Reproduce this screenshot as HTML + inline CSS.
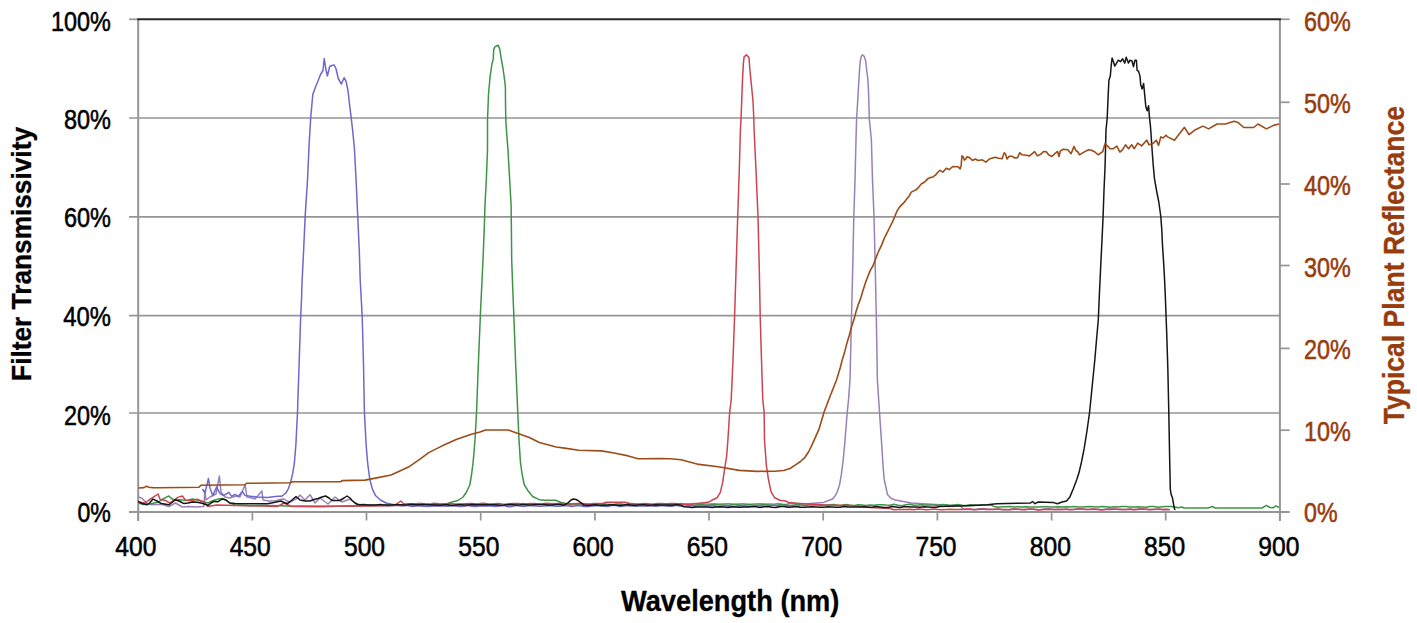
<!DOCTYPE html>
<html><head><meta charset="utf-8"><style>
html,body{margin:0;padding:0;background:#fff;overflow:hidden;}
svg{display:block;font-family:"Liberation Sans",sans-serif;}
</style></head><body>
<svg width="1417" height="623" viewBox="0 0 1417 623">
<rect width="1417" height="623" fill="#fff"/>
<line x1="129" y1="118.0" x2="1279.9" y2="118.0" stroke="#959595" stroke-width="1.7"/>
<line x1="129" y1="216.9" x2="1279.9" y2="216.9" stroke="#959595" stroke-width="1.7"/>
<line x1="129" y1="315.7" x2="1279.9" y2="315.7" stroke="#959595" stroke-width="1.7"/>
<line x1="129" y1="413.0" x2="1279.9" y2="413.0" stroke="#959595" stroke-width="1.7"/>
<line x1="129" y1="19.3" x2="138.2" y2="19.3" stroke="#959595" stroke-width="1.7"/>
<line x1="129" y1="512.0" x2="1289.4" y2="512.0" stroke="#959595" stroke-width="2"/>
<line x1="1279.9" y1="512.0" x2="1289.7" y2="512.0" stroke="#959595" stroke-width="1.7"/>
<line x1="1279.9" y1="430.2" x2="1289.7" y2="430.2" stroke="#959595" stroke-width="1.7"/>
<line x1="1279.9" y1="348.4" x2="1289.7" y2="348.4" stroke="#959595" stroke-width="1.7"/>
<line x1="1279.9" y1="265.5" x2="1289.7" y2="265.5" stroke="#959595" stroke-width="1.7"/>
<line x1="1279.9" y1="184.0" x2="1289.7" y2="184.0" stroke="#959595" stroke-width="1.7"/>
<line x1="1279.9" y1="102.3" x2="1289.7" y2="102.3" stroke="#959595" stroke-width="1.7"/>
<line x1="1279.9" y1="19.3" x2="1289.7" y2="19.3" stroke="#959595" stroke-width="1.7"/>
<line x1="138.2" y1="512.0" x2="138.2" y2="520.5" stroke="#959595" stroke-width="1.7"/>
<line x1="252.4" y1="512.0" x2="252.4" y2="520.5" stroke="#959595" stroke-width="1.7"/>
<line x1="366.5" y1="512.0" x2="366.5" y2="520.5" stroke="#959595" stroke-width="1.7"/>
<line x1="480.7" y1="512.0" x2="480.7" y2="520.5" stroke="#959595" stroke-width="1.7"/>
<line x1="594.9" y1="512.0" x2="594.9" y2="520.5" stroke="#959595" stroke-width="1.7"/>
<line x1="709.0" y1="512.0" x2="709.0" y2="520.5" stroke="#959595" stroke-width="1.7"/>
<line x1="823.2" y1="512.0" x2="823.2" y2="520.5" stroke="#959595" stroke-width="1.7"/>
<line x1="937.4" y1="512.0" x2="937.4" y2="520.5" stroke="#959595" stroke-width="1.7"/>
<line x1="1051.6" y1="512.0" x2="1051.6" y2="520.5" stroke="#959595" stroke-width="1.7"/>
<line x1="1165.7" y1="512.0" x2="1165.7" y2="520.5" stroke="#959595" stroke-width="1.7"/>
<line x1="1279.9" y1="512.0" x2="1279.9" y2="520.5" stroke="#959595" stroke-width="1.7"/>
<line x1="138.2" y1="19.3" x2="138.2" y2="521.0" stroke="#959595" stroke-width="2"/>
<line x1="1279.9" y1="19.3" x2="1279.9" y2="521.0" stroke="#959595" stroke-width="2"/>
<line x1="137.2" y1="19.3" x2="1280.9" y2="19.3" stroke="#272727" stroke-width="2"/>
<polyline fill="none" stroke="#9a80b8" stroke-width="1.5" stroke-linejoin="round" points="138.3,496.9 141.6,498.0 147.3,503.6 151.8,504.8 156.0,504.5 161.4,504.2 168.8,506.5 175.5,503.0 182.3,507.0 188.0,506.5 195.3,507.0 203.8,506.5 204.9,490.6 206.0,500.0 210.0,497.0 216.0,494.0 219.4,476.0 221.0,492.0 225.0,497.0 230.0,498.0 236.0,496.0 240.0,497.0 245.1,484.8 247.0,497.0 252.0,498.0 255.0,499.0 261.9,490.9 263.0,500.0 269.0,501.0 275.0,501.0 280.0,499.5 284.0,499.0 287.0,501.0 290.0,502.0 294.0,500.0 297.7,498.0 300.0,495.0 305.0,500.0 310.0,494.7 315.0,503.0 320.0,498.0 324.0,501.0 328.0,504.0 335.0,497.0 342.0,502.0 350.0,499.0 357.0,504.0 362.0,505.0 380.0,505.5 384.0,505.3 388.0,506.0 392.0,505.4 396.0,505.3 400.0,505.7 404.0,505.7 408.0,505.1 412.0,505.4 416.0,505.4 420.0,505.8 424.0,505.7 428.0,505.3 432.0,505.4 436.0,505.8 440.0,505.6 444.0,505.2 448.0,505.7 452.0,505.6 456.0,505.3 460.0,505.4 464.0,505.7 468.0,505.7 472.0,505.6 476.0,505.3 480.0,505.3 484.0,505.7 488.0,505.3 492.0,505.2 496.0,505.8 500.0,505.8 504.0,505.5 508.0,505.3 512.0,505.5 516.0,505.8 520.0,505.5 522.0,503.5 526.0,504.3 530.0,504.0 534.0,503.4 538.0,503.9 542.0,504.0 546.0,503.9 550.0,504.1 554.0,503.6 558.0,504.1 562.0,504.2 566.0,504.0 570.0,503.7 574.0,504.2 578.0,504.5 582.0,503.7 586.0,503.7 590.0,504.3 594.0,504.1 598.0,504.1 602.0,503.8 606.0,503.9 610.0,504.4 614.0,504.2 618.0,503.4 622.0,504.0 626.0,504.5 630.0,503.5 634.0,503.7 638.0,504.6 642.0,504.2 646.0,503.8 650.0,504.2 654.0,504.2 658.0,504.3 662.0,504.1 666.0,503.8 670.0,503.9 674.0,504.6 678.0,503.9 682.0,503.6 686.0,504.5 690.0,503.9 694.0,503.6 698.0,504.0 702.0,504.1 706.0,504.0 710.0,504.1 714.0,503.7 718.0,504.0 722.0,504.1 726.0,503.8 730.0,503.8 734.0,504.4 738.0,504.1 742.0,503.8 746.0,503.9 750.0,504.3 754.0,503.9 758.0,503.7 762.0,503.8 766.0,504.1 770.0,504.0 774.0,504.2 778.0,503.4 782.0,504.3 786.0,504.4 790.0,503.6 794.0,503.6 798.0,504.4 810.0,503.5 823.5,502.4 832.5,499.0 835.0,496.0 837.0,492.3 839.5,485.0 841.4,474.3 843.2,460.0 844.8,442.9 847.1,413.7 848.5,400.0 850.0,380.0 851.5,315.8 852.8,265.0 853.8,216.8 855.0,180.0 856.0,140.0 856.6,118.7 857.7,101.0 858.8,81.7 859.8,65.7 860.9,57.7 862.2,54.8 864.1,56.1 865.7,60.9 866.9,72.1 867.8,78.5 868.6,93.0 869.3,118.7 871.4,140.0 872.5,180.0 874.0,216.8 875.2,265.0 876.3,315.8 877.4,380.0 879.6,413.7 881.9,447.4 883.0,465.0 884.1,478.8 887.5,494.5 891.0,498.2 895.3,500.1 911.1,503.1 935.8,504.6 960.0,505.8 964.0,509.5 969.0,509.2 974.0,509.4 979.0,508.8 984.0,508.7 989.0,509.3 994.0,509.3 999.0,509.2 1004.0,509.8 1009.0,509.4 1014.0,508.7 1019.0,509.3 1024.0,509.7 1029.0,509.1 1034.0,509.2 1039.0,509.7 1044.0,509.0 1049.0,508.8 1054.0,509.4 1059.0,509.2 1064.0,509.5 1069.0,509.4 1074.0,509.2 1079.0,509.1 1084.0,509.2 1089.0,509.5 1094.0,509.2 1099.0,509.7 1104.0,509.3 1109.0,508.7 1114.0,509.0 1119.0,509.4 1124.0,509.4 1129.0,509.5 1134.0,509.6 1139.0,508.8 1144.0,509.0 1149.0,509.7 1154.0,509.5 1159.0,509.1 1164.0,509.8 1169.0,509.4"/>
<polyline fill="none" stroke="#3e9446" stroke-width="1.5" stroke-linejoin="round" points="138.3,503.0 144.0,504.5 150.0,504.0 154.0,503.0 158.6,502.0 162.0,499.5 165.9,497.4 168.8,496.0 171.0,498.0 174.4,500.2 180.0,499.7 186.0,500.5 192.5,499.1 199.8,500.8 204.0,502.0 208.3,503.0 212.0,501.0 215.0,500.0 218.5,499.0 222.0,498.5 226.0,500.0 230.0,503.0 235.0,505.0 250.0,505.8 265.0,505.4 280.8,505.7 297.7,506.4 320.0,506.8 360.0,505.5 400.0,505.0 430.0,504.5 440.0,504.2 447.6,503.5 452.0,502.0 458.0,500.5 463.1,497.0 466.5,492.0 469.8,485.0 471.5,475.0 473.2,461.6 475.0,440.0 476.6,411.0 478.5,360.0 480.6,310.0 481.8,285.0 483.0,260.0 484.2,230.0 485.0,205.0 486.3,180.0 487.5,150.0 487.5,120.0 488.5,94.2 490.1,76.5 492.0,63.7 493.3,58.9 493.7,49.3 494.9,46.9 496.5,46.0 498.2,45.2 499.8,49.3 501.0,57.3 503.0,68.5 504.6,79.8 505.4,87.8 505.5,102.2 505.8,120.0 506.8,135.0 508.0,150.0 509.5,177.0 511.1,205.0 511.4,230.0 511.7,260.0 512.8,290.0 513.8,315.0 515.5,360.0 517.7,411.0 519.0,440.0 520.4,461.6 521.5,470.0 522.8,478.0 524.4,485.0 527.6,490.2 532.7,496.5 539.1,499.7 545.4,500.3 555.6,500.3 560.6,502.2 566.0,503.5 570.0,505.3 574.0,504.3 578.0,505.1 582.0,505.5 586.0,504.8 590.0,504.4 594.0,505.2 598.0,505.2 602.0,504.7 606.0,504.9 610.0,504.7 614.0,505.0 618.0,505.3 622.0,504.6 626.0,504.9 630.0,505.7 634.0,504.8 638.0,504.2 642.0,505.4 646.0,505.4 650.0,504.8 654.0,504.9 658.0,505.4 662.0,505.1 666.0,505.2 670.0,504.7 674.0,504.9 678.0,505.6 682.0,505.0 686.0,504.2 690.0,505.1 694.0,505.6 698.0,504.8 702.0,504.7 706.0,505.3 710.0,505.0 714.0,504.8 718.0,504.8 722.0,505.0 726.0,505.2 730.0,505.0 734.0,504.3 738.0,504.8 742.0,505.5 746.0,504.8 750.0,504.7 754.0,505.2 758.0,505.2 762.0,504.7 766.0,504.8 770.0,505.1 774.0,505.2 778.0,505.1 782.0,504.4 786.0,505.0 790.0,505.7 794.0,505.1 798.0,504.3 802.0,505.3 806.0,505.6 810.0,504.8 814.0,505.0 818.0,505.0 822.0,505.4 826.0,504.9 830.0,504.7 834.0,504.6 838.0,505.6 842.0,505.2 846.0,504.6 850.0,505.3 854.0,505.8 858.0,504.7 862.0,504.9 866.0,505.4 870.0,505.1 874.0,505.2 878.0,504.8 882.0,504.7 886.0,505.1 890.0,505.2 894.0,504.3 898.0,505.2 902.0,505.8 906.0,504.7 910.0,504.3 914.0,505.3 918.0,505.1 922.0,504.8 926.0,505.0 930.0,504.9 934.0,505.1 938.0,505.4 942.0,504.6 946.0,504.8 950.0,505.8 954.0,505.1 958.0,504.6 962.0,505.3 966.0,505.4 970.0,504.8 974.0,505.0 978.0,505.2 982.0,505.0 986.0,505.0 990.0,504.7 994.0,506.4 998.0,507.2 1002.0,506.8 1006.0,506.7 1010.0,506.5 1014.0,507.0 1018.0,506.7 1022.0,506.9 1026.0,506.8 1030.0,506.9 1034.0,507.0 1038.0,507.0 1042.0,506.8 1046.0,506.7 1050.0,507.1 1054.0,506.9 1058.0,506.8 1062.0,506.9 1066.0,506.8 1070.0,507.0 1074.0,506.5 1078.0,506.9 1082.0,507.1 1086.0,506.7 1090.0,506.5 1094.0,506.7 1098.0,507.1 1102.0,506.6 1106.0,506.8 1110.0,507.2 1114.0,506.8 1118.0,506.9 1122.0,506.5 1126.0,506.6 1130.0,507.0 1134.0,507.0 1138.0,506.8 1142.0,507.0 1146.0,507.3 1150.0,506.6 1154.0,506.6 1158.0,507.2 1162.0,506.8 1166.0,506.6 1170.0,506.5 1174.0,506.7 1178.0,507.8 1181.8,507.0 1184.0,508.0 1208.0,508.0 1212.5,506.5 1215.0,508.0 1262.0,508.0 1266.4,505.4 1270.0,507.5 1273.0,507.8 1276.0,505.8 1279.0,507.5"/>
<polyline fill="none" stroke="#cc4450" stroke-width="1.5" stroke-linejoin="round" points="138.3,502.0 145.0,503.0 149.0,500.0 153.0,497.4 158.0,494.0 160.3,499.7 164.8,500.2 169.9,503.0 174.0,500.0 177.8,497.4 182.3,496.0 185.7,500.2 192.5,500.8 197.0,499.1 203.8,502.0 207.7,506.5 216.7,505.0 235.0,505.5 250.5,505.7 265.0,506.0 277.4,506.4 284.2,503.0 290.9,506.4 300.0,506.0 340.0,506.3 370.0,506.0 395.0,505.5 398.0,503.0 400.7,501.0 404.0,504.0 410.0,503.8 414.0,504.0 418.0,503.6 422.0,503.6 426.0,504.2 430.0,504.3 434.0,503.3 438.0,503.7 442.0,504.3 446.0,503.8 450.0,503.6 454.0,503.9 458.0,504.0 462.0,504.0 466.0,503.8 470.0,503.6 474.0,503.8 478.0,504.1 482.0,503.3 486.0,503.5 490.0,504.3 494.0,503.9 498.0,503.5 502.0,504.0 506.0,504.2 510.0,503.8 514.0,503.4 518.0,503.6 522.0,504.1 526.0,503.9 530.0,503.5 534.0,503.7 538.0,504.2 542.0,503.9 546.0,503.3 550.0,503.6 554.0,504.1 558.0,503.5 562.0,503.5 566.0,503.8 570.0,503.9 574.0,503.7 578.0,503.5 582.0,503.3 586.0,504.2 590.0,504.3 594.0,503.5 598.0,503.4 603.0,503.5 606.0,502.2 625.0,502.2 630.0,503.5 634.0,504.0 638.0,504.3 642.0,503.8 646.0,503.4 650.0,504.3 654.0,503.9 658.0,503.4 662.0,503.6 666.0,504.0 670.0,503.6 674.0,503.6 678.0,503.7 682.0,504.0 686.0,504.2 690.0,504.2 701.6,502.9 708.0,502.3 711.8,500.3 717.0,497.8 720.2,492.6 722.7,482.4 724.7,468.2 726.6,456.7 727.9,440.0 729.7,411.8 731.2,400.0 733.0,360.0 734.6,316.3 736.2,265.0 737.7,216.7 739.3,170.0 740.4,130.0 741.0,118.7 741.7,101.0 742.5,80.1 743.3,64.1 744.1,56.9 746.5,54.8 749.0,57.7 749.8,68.9 751.4,84.9 753.0,101.0 753.8,118.7 754.1,130.0 756.0,170.0 758.0,216.7 759.2,265.0 760.2,316.3 761.5,360.0 762.8,400.0 764.1,411.8 764.5,440.0 766.4,465.7 768.3,478.5 770.9,491.3 774.7,497.8 779.9,500.3 785.6,501.0 788.8,502.6 800.0,503.5 812.0,504.3 825.0,505.0 853.0,505.5 870.0,507.5 890.0,508.5 894.0,509.8 898.0,509.6 902.0,509.5 906.0,509.4 910.0,509.3 914.0,509.7 918.0,509.0 922.0,509.3 926.0,509.7 930.0,509.5 934.0,509.1 938.0,509.5 942.0,509.8 946.0,509.6 950.0,509.2 954.0,509.5 958.0,509.6 962.0,509.6 966.0,509.1 970.0,509.1 974.0,509.8 978.0,509.6 982.0,508.9 986.0,509.4 990.0,509.6 994.0,509.6 998.0,509.0 1002.0,509.5 1006.0,509.4 1010.0,509.8 1014.0,509.2 1018.0,509.3 1022.0,509.5 1026.0,509.6 1030.0,508.9 1034.0,509.2 1038.0,510.0 1042.0,509.7 1046.0,509.3 1050.0,509.5 1054.0,509.4 1058.0,509.4 1062.0,509.4 1066.0,509.1 1070.0,509.7 1074.0,509.5 1078.0,509.0 1082.0,509.0 1086.0,509.6 1090.0,509.3 1094.0,508.9 1098.0,509.3 1102.0,509.9 1106.0,509.4 1110.0,509.4 1114.0,509.3 1118.0,509.3 1122.0,509.6 1126.0,509.4 1130.0,508.9 1134.0,509.7 1138.0,509.5 1142.0,509.1 1146.0,509.2 1150.0,509.6 1154.0,509.2 1158.0,509.3 1162.0,509.4 1166.0,509.3 1170.0,509.7"/>
<polyline fill="none" stroke="#6e68cc" stroke-width="1.5" stroke-linejoin="round" points="202.5,489.0 205.0,493.0 208.4,478.6 210.0,488.0 212.7,495.6 216.7,486.9 218.0,490.0 220.1,493.6 223.5,495.6 228.9,492.3 231.6,496.3 235.0,494.3 238.3,496.3 242.4,491.6 245.1,495.6 250.5,496.3 257.2,497.0 267.3,497.6 277.4,496.3 281.4,496.3 284.0,494.5 286.2,492.6 288.4,488.5 290.4,483.0 292.7,473.4 294.3,463.7 295.9,444.5 297.5,412.4 299.1,364.2 300.7,316.0 301.5,300.0 302.0,283.0 303.6,250.9 305.2,215.6 307.5,180.3 309.1,144.9 310.7,117.7 312.3,100.0 312.8,94.5 315.7,86.5 318.0,81.0 320.5,74.5 323.0,70.5 324.2,58.5 325.8,69.0 327.4,76.0 329.7,66.5 332.0,65.5 334.2,65.0 336.1,69.0 338.2,78.5 341.4,84.0 344.1,77.7 346.2,81.7 348.2,92.0 349.0,100.0 350.3,110.6 351.2,117.7 352.6,130.0 354.4,148.2 356.1,180.3 357.7,215.6 359.3,250.9 360.2,279.8 361.3,300.0 362.2,316.0 363.5,364.2 364.4,412.4 366.1,444.5 367.7,463.7 369.9,479.8 372.5,489.4 375.7,495.8 380.5,500.0 386.0,503.0 394.0,504.8 400.0,505.6 404.0,505.5 408.0,505.6 412.0,506.4 416.0,505.9 420.0,505.4 424.0,506.3 428.0,506.4 432.0,506.0 436.0,505.9 440.0,505.9 444.0,506.0 448.0,506.3 452.0,505.4 456.0,505.9 460.0,506.4 464.0,506.3 468.0,505.1 472.0,506.2 476.0,506.4 480.0,505.8 484.0,506.0 488.0,505.7 492.0,505.9 496.0,506.5 500.0,505.7 504.0,505.4 508.0,506.8 512.0,506.5 516.0,505.1 520.0,505.9 524.0,506.4 528.0,505.8 532.0,505.7 536.0,505.9 540.0,506.3 544.0,505.9 548.0,505.7 552.0,505.8 556.0,506.3 560.0,506.3 564.0,505.5 568.0,505.8 572.0,506.6 576.0,505.7 580.0,505.6 584.0,506.4 588.0,506.5 592.0,506.0 596.0,505.8 600.0,505.7 604.0,506.3 608.0,506.5 612.0,505.4 616.0,505.5 620.0,506.6 624.0,506.1 628.0,505.5 632.0,506.1 636.0,506.2 640.0,506.0 644.0,505.7 648.0,506.0 652.0,506.0 656.0,506.2 660.0,505.7 664.0,505.7 668.0,506.3 672.0,506.3 676.0,505.2 680.0,506.0 684.0,506.4 688.0,505.8 692.0,505.5 696.0,506.2 700.0,505.9 704.0,506.1 708.0,505.7 712.0,505.6 716.0,506.3 720.0,506.6 724.0,505.4 728.0,506.0 732.0,506.5 736.0,506.2 740.0,505.4 744.0,506.0 748.0,506.4 752.0,506.1 756.0,505.6 760.0,505.7 764.0,506.3 768.0,506.3 772.0,505.5 776.0,505.4 780.0,506.4 784.0,506.2 788.0,505.6 792.0,506.3 796.0,506.5 800.0,505.6"/>
<polyline fill="none" stroke="#161616" stroke-width="1.5" stroke-linejoin="round" points="138.3,501.4 142.0,503.5 147.3,504.8 150.0,502.5 153.0,499.1 157.0,501.0 161.4,503.6 168.8,504.8 172.0,502.5 175.5,499.7 179.0,501.0 184.0,503.6 188.0,503.0 192.5,501.9 197.0,502.2 201.0,503.0 208.3,505.3 211.0,503.0 214.0,501.4 218.1,501.7 222.1,499.0 225.5,499.7 229.6,503.0 235.0,503.5 240.3,503.7 267.3,503.7 274.0,502.5 280.8,501.0 284.0,502.5 287.5,503.7 292.0,500.0 296.0,496.5 300.0,500.0 305.0,501.0 310.0,501.0 314.0,499.5 318.0,498.5 322.0,497.0 325.6,496.0 329.0,498.0 332.0,500.5 340.0,500.5 344.0,498.0 347.0,496.0 350.0,498.0 352.0,500.5 355.0,503.0 357.8,504.5 360.0,504.8 364.0,504.5 368.0,505.1 372.0,504.9 376.0,505.0 380.0,504.6 384.0,504.9 388.0,504.9 392.0,504.9 396.0,504.4 400.0,504.7 404.0,505.0 408.0,504.7 412.0,504.2 416.0,504.7 420.0,504.8 424.0,504.6 428.0,504.6 432.0,504.9 436.0,504.9 440.0,505.2 444.0,504.8 448.0,504.8 452.0,505.4 456.0,504.9 460.0,504.5 464.0,505.0 468.0,505.1 472.0,504.5 476.0,504.7 480.0,504.8 484.0,504.7 488.0,504.7 492.0,504.5 496.0,504.7 500.0,505.2 504.0,505.1 508.0,504.4 512.0,504.5 516.0,504.9 520.0,504.8 524.0,504.6 528.0,504.9 532.0,504.8 536.0,504.6 540.0,504.6 544.0,504.5 548.0,505.0 552.0,504.9 556.0,504.5 560.0,504.6 564.0,505.2 568.0,502.9 571.0,500.0 573.4,499.0 576.0,499.5 578.0,500.5 581.0,502.9 584.0,505.1 588.0,505.4 592.0,504.9 596.0,504.8 600.0,505.4 604.0,505.2 608.0,505.0 612.0,504.7 616.0,504.9 620.0,505.4 624.0,505.1 628.0,504.6 632.0,505.2 636.0,505.2 640.0,504.7 644.0,504.7 648.0,505.2 652.0,505.0 656.0,504.7 660.0,505.0 664.0,505.0 668.0,505.1 672.0,505.2 676.0,504.6 680.0,504.9 684.0,506.7 688.0,507.0 692.0,507.4 696.0,507.0 700.0,506.9 704.0,506.9 708.0,507.0 712.0,507.5 716.0,507.0 720.0,506.8 724.0,507.1 728.0,507.4 732.0,506.7 736.0,507.0 740.0,507.3 744.0,507.0 748.0,507.1 752.0,506.8 756.0,506.8 760.0,507.5 764.0,506.8 768.0,506.6 772.0,507.2 776.0,507.5 780.0,506.6 784.0,506.6 788.0,507.2 792.0,506.9 796.0,506.5 800.0,507.2 804.0,507.2 808.0,506.9 812.0,506.8 816.0,507.0 820.0,507.2 824.0,507.3 828.0,506.8 832.0,507.0 836.0,507.2 840.0,507.2 844.0,506.5 848.0,507.0 852.0,507.0 856.0,506.9 860.0,506.9 864.0,506.8 868.0,507.2 872.0,507.2 876.0,506.6 880.0,506.9 884.0,507.5 888.0,507.4 892.0,506.6 896.0,506.9 900.0,507.4 904.0,506.8 908.0,506.7 912.0,506.9 916.0,506.9 920.0,507.2 924.0,506.8 928.0,506.9 932.0,507.2 936.0,507.2 940.0,506.5 968.2,505.7 987.4,504.8 996.5,503.7 1030.3,503.1 1032.6,501.5 1034.9,503.7 1038.2,502.0 1052.9,502.4 1057.4,503.7 1062.0,502.0 1066.5,500.9 1069.9,496.9 1073.2,489.0 1076.6,480.0 1078.9,473.1 1081.5,462.0 1084.2,448.4 1086.8,432.0 1089.5,413.0 1092.0,388.0 1094.8,360.0 1096.5,340.0 1098.3,319.8 1099.5,292.0 1100.8,264.3 1102.0,240.0 1103.1,216.2 1104.0,190.0 1105.0,168.1 1105.5,150.0 1106.0,130.0 1107.2,118.0 1108.2,94.9 1108.9,80.5 1110.3,76.1 1111.1,66.7 1112.1,58.1 1113.5,61.7 1114.7,66.0 1116.1,63.8 1118.3,60.2 1120.5,61.7 1122.6,58.8 1124.8,63.1 1126.2,57.3 1128.4,63.1 1129.9,60.2 1132.0,61.0 1133.5,66.7 1134.9,60.2 1136.4,60.2 1137.1,70.3 1138.5,71.1 1140.0,76.1 1140.7,84.8 1142.1,89.1 1143.6,83.4 1144.7,94.9 1145.8,106.5 1147.2,110.8 1148.6,105.8 1149.4,116.6 1150.5,126.7 1151.1,135.0 1152.1,150.0 1153.2,165.0 1154.5,178.9 1156.8,192.0 1158.8,202.0 1160.8,216.5 1161.8,230.0 1162.5,245.4 1163.6,262.0 1164.6,280.0 1165.4,298.0 1166.0,314.7 1166.6,330.0 1167.8,366.9 1168.8,412.2 1169.7,460.6 1170.3,488.8 1171.0,494.0 1172.5,498.1 1173.4,503.0 1174.1,507.5 1175.0,510.0"/>
<polyline fill="none" stroke="#9c4c18" stroke-width="1.6" stroke-linejoin="round" points="138.5,488.0 144.0,487.6 146.5,486.3 149.0,487.2 153.0,487.6 160.0,487.7 199.0,487.3 201.0,485.2 245.0,484.8 246.5,483.3 290.0,482.8 293.0,481.8 340.6,481.8 342.0,480.6 365.0,480.1 376.7,477.9 391.1,475.0 408.5,467.1 420.0,459.1 428.7,452.6 441.7,446.1 456.2,439.6 470.6,434.6 480.0,431.9 485.6,430.0 508.2,430.0 519.5,434.0 529.4,437.5 539.3,442.5 556.2,447.0 564.7,448.1 578.8,450.2 601.4,450.9 614.1,453.0 628.2,455.9 638.1,458.7 660.0,458.6 670.5,458.7 681.2,459.8 698.8,464.4 718.3,466.8 739.4,470.4 757.1,471.4 775.0,471.2 783.6,470.5 790.0,468.5 795.9,464.7 800.5,461.5 804.7,457.7 808.5,452.0 811.8,445.3 818.9,429.4 824.2,411.8 829.5,397.7 836.5,380.0 840.3,367.5 842.5,358.9 844.8,351.4 847.0,342.9 849.3,335.3 851.5,327.0 853.8,320.1 856.0,311.7 858.3,304.4 860.5,298.9 862.8,291.0 865.4,283.0 868.0,276.0 870.4,270.1 872.8,266.3 875.2,260.0 877.2,254.8 879.3,249.8 881.7,244.9 884.1,238.6 886.5,233.8 888.9,229.0 892.1,222.6 894.5,217.2 896.9,211.3 899.3,207.4 901.7,204.9 904.1,202.4 906.5,199.3 908.9,196.4 911.3,192.1 913.8,190.9 916.2,189.7 918.6,187.4 921.0,184.1 923.4,182.8 925.8,180.9 928.2,178.4 930.6,177.6 933.0,176.9 935.4,175.2 938.0,172.0 940.0,170.3 942.8,172.1 946.4,168.2 949.2,169.6 952.7,166.5 955.5,166.8 958.3,166.8 960.1,168.9 961.2,165.4 961.9,155.9 963.3,156.9 964.3,160.1 965.8,159.0 966.8,156.9 969.6,157.6 972.5,160.5 975.3,159.0 978.1,160.5 982.3,159.8 985.9,162.2 989.4,159.0 995.0,157.3 998.6,158.3 1002.1,158.7 1004.2,152.7 1005.6,154.1 1007.0,159.0 1009.2,156.2 1012.0,156.2 1014.8,158.0 1017.6,157.6 1019.7,152.7 1021.9,154.8 1026.1,155.2 1029.6,155.9 1034.6,151.6 1037.4,155.9 1040.6,154.3 1043.5,151.5 1046.3,151.7 1048.6,154.8 1051.9,156.5 1054.8,153.7 1057.6,151.5 1059.0,156.5 1060.4,150.9 1063.2,149.2 1067.8,149.8 1071.1,153.7 1074.0,146.4 1075.7,150.3 1077.9,152.0 1079.6,154.8 1083.0,152.6 1088.6,149.8 1091.5,150.3 1094.9,152.0 1098.2,154.8 1102.8,151.5 1105.0,143.6 1108.4,146.9 1110.0,148.7 1113.4,148.7 1116.8,146.2 1119.9,152.1 1122.4,149.8 1125.5,144.8 1128.6,148.7 1131.7,144.8 1134.3,148.7 1137.7,143.1 1141.6,145.9 1146.7,140.2 1149.0,144.8 1152.9,143.6 1156.3,140.2 1158.6,145.3 1160.8,136.9 1163.1,138.0 1165.9,135.2 1167.6,136.9 1174.4,140.2 1184.5,127.3 1189.0,134.6 1194.4,130.3 1202.9,126.1 1208.6,128.9 1217.0,124.0 1225.5,124.0 1234.0,121.2 1238.2,122.6 1243.8,127.5 1253.7,127.5 1258.0,124.0 1266.4,128.9 1273.5,125.4 1279.1,124.0"/>
<text x="51.1" y="31.0" font-size="27.4" font-weight="normal" fill="#000" stroke="#000" stroke-width="0.55" text-anchor="start" textLength="59.8" lengthAdjust="spacingAndGlyphs">100%</text>
<text x="63.9" y="128.7" font-size="27.4" font-weight="normal" fill="#000" stroke="#000" stroke-width="0.55" text-anchor="start" textLength="47.0" lengthAdjust="spacingAndGlyphs">80%</text>
<text x="63.9" y="227.4" font-size="27.4" font-weight="normal" fill="#000" stroke="#000" stroke-width="0.55" text-anchor="start" textLength="47.0" lengthAdjust="spacingAndGlyphs">60%</text>
<text x="63.3" y="325.9" font-size="27.4" font-weight="normal" fill="#000" stroke="#000" stroke-width="0.55" text-anchor="start" textLength="47.6" lengthAdjust="spacingAndGlyphs">40%</text>
<text x="64.1" y="424.5" font-size="27.4" font-weight="normal" fill="#000" stroke="#000" stroke-width="0.55" text-anchor="start" textLength="46.8" lengthAdjust="spacingAndGlyphs">20%</text>
<text x="77.5" y="522.2" font-size="27.4" font-weight="normal" fill="#000" stroke="#000" stroke-width="0.55" text-anchor="start" textLength="33.4" lengthAdjust="spacingAndGlyphs">0%</text>
<text x="1304.0" y="31.3" font-size="27.4" font-weight="normal" fill="#963c0d" stroke="#963c0d" stroke-width="0.55" text-anchor="start" textLength="46.8" lengthAdjust="spacingAndGlyphs">60%</text>
<text x="1304.0" y="113.2" font-size="27.4" font-weight="normal" fill="#963c0d" stroke="#963c0d" stroke-width="0.55" text-anchor="start" textLength="46.8" lengthAdjust="spacingAndGlyphs">50%</text>
<text x="1304.0" y="195.0" font-size="27.4" font-weight="normal" fill="#963c0d" stroke="#963c0d" stroke-width="0.55" text-anchor="start" textLength="46.8" lengthAdjust="spacingAndGlyphs">40%</text>
<text x="1304.0" y="276.9" font-size="27.4" font-weight="normal" fill="#963c0d" stroke="#963c0d" stroke-width="0.55" text-anchor="start" textLength="46.8" lengthAdjust="spacingAndGlyphs">30%</text>
<text x="1304.0" y="358.7" font-size="27.4" font-weight="normal" fill="#963c0d" stroke="#963c0d" stroke-width="0.55" text-anchor="start" textLength="46.8" lengthAdjust="spacingAndGlyphs">20%</text>
<text x="1304.0" y="440.6" font-size="27.4" font-weight="normal" fill="#963c0d" stroke="#963c0d" stroke-width="0.55" text-anchor="start" textLength="46.8" lengthAdjust="spacingAndGlyphs">10%</text>
<text x="1304.0" y="522.4" font-size="27.4" font-weight="normal" fill="#963c0d" stroke="#963c0d" stroke-width="0.55" text-anchor="start" textLength="33.6" lengthAdjust="spacingAndGlyphs">0%</text>
<text x="135.9" y="556.4" font-size="27.4" font-weight="normal" fill="#000" stroke="#000" stroke-width="0.55" text-anchor="middle" textLength="41.1" lengthAdjust="spacingAndGlyphs">400</text>
<text x="250.2" y="556.4" font-size="27.4" font-weight="normal" fill="#000" stroke="#000" stroke-width="0.55" text-anchor="middle" textLength="41.1" lengthAdjust="spacingAndGlyphs">450</text>
<text x="364.5" y="556.4" font-size="27.4" font-weight="normal" fill="#000" stroke="#000" stroke-width="0.55" text-anchor="middle" textLength="41.1" lengthAdjust="spacingAndGlyphs">500</text>
<text x="478.8" y="556.4" font-size="27.4" font-weight="normal" fill="#000" stroke="#000" stroke-width="0.55" text-anchor="middle" textLength="41.1" lengthAdjust="spacingAndGlyphs">550</text>
<text x="593.1" y="556.4" font-size="27.4" font-weight="normal" fill="#000" stroke="#000" stroke-width="0.55" text-anchor="middle" textLength="41.1" lengthAdjust="spacingAndGlyphs">600</text>
<text x="707.4" y="556.4" font-size="27.4" font-weight="normal" fill="#000" stroke="#000" stroke-width="0.55" text-anchor="middle" textLength="41.1" lengthAdjust="spacingAndGlyphs">650</text>
<text x="821.7" y="556.4" font-size="27.4" font-weight="normal" fill="#000" stroke="#000" stroke-width="0.55" text-anchor="middle" textLength="41.1" lengthAdjust="spacingAndGlyphs">700</text>
<text x="936.0" y="556.4" font-size="27.4" font-weight="normal" fill="#000" stroke="#000" stroke-width="0.55" text-anchor="middle" textLength="41.1" lengthAdjust="spacingAndGlyphs">750</text>
<text x="1050.3" y="556.4" font-size="27.4" font-weight="normal" fill="#000" stroke="#000" stroke-width="0.55" text-anchor="middle" textLength="41.1" lengthAdjust="spacingAndGlyphs">800</text>
<text x="1164.6" y="556.4" font-size="27.4" font-weight="normal" fill="#000" stroke="#000" stroke-width="0.55" text-anchor="middle" textLength="41.1" lengthAdjust="spacingAndGlyphs">850</text>
<text x="1278.9" y="556.4" font-size="27.4" font-weight="normal" fill="#000" stroke="#000" stroke-width="0.55" text-anchor="middle" textLength="41.1" lengthAdjust="spacingAndGlyphs">900</text>
<text x="621" y="610.7" font-size="29.8" font-weight="bold" fill="#000" stroke="#000" stroke-width="0.3" text-anchor="start" textLength="218.4" lengthAdjust="spacingAndGlyphs">Wavelength (nm)</text>
<text transform="translate(30.6,380.9) rotate(-90)" font-size="28.4" font-weight="bold" fill="#000" stroke="#000" stroke-width="0.3" textLength="253.9" lengthAdjust="spacingAndGlyphs">Filter Transmissivity</text>
<text transform="translate(1403.7,424.3) rotate(-90)" font-size="29" font-weight="bold" fill="#963c0d" stroke="#963c0d" stroke-width="0.3" textLength="318.3" lengthAdjust="spacingAndGlyphs">Typical Plant Reflectance</text>
</svg>
</body></html>
